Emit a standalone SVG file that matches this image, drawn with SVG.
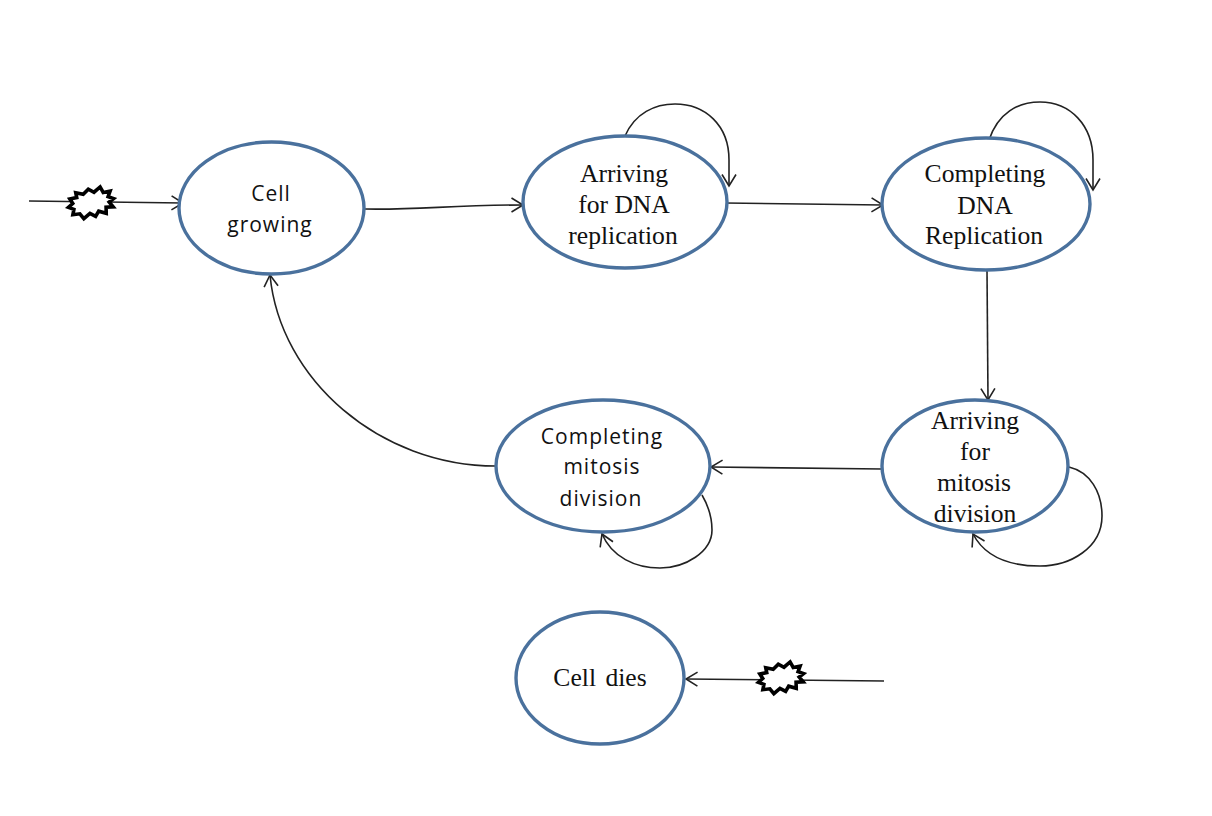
<svg xmlns="http://www.w3.org/2000/svg" width="1212" height="816" viewBox="0 0 1212 816">
<style>
.n{fill:#fff;stroke:#4a719d;stroke-width:3.4}
.c{fill:none;stroke:#222;stroke-width:1.6}
.b{fill:#fff;stroke:#000;stroke-width:3.6;stroke-linejoin:miter}
text{text-anchor:middle;fill:#111}
.s{font-family:"Liberation Serif",serif;font-size:25.6px}
.a{font-family:"Open Sans",sans-serif;font-size:21px;letter-spacing:1px}
</style>
<defs>
<marker id="h" markerUnits="userSpaceOnUse" markerWidth="16" markerHeight="18" refX="13" refY="9" orient="auto"><path d="M1.500 2 L13 9 L1.500 16" fill="none" stroke="#222" stroke-width="1.600"/></marker>
<polygon id="burst" points="23,0 18,2.500 21,8 14,7 13,13 6,9.500 2,14 -3,10 -10,14 -13,8.500 -20,8 -18,3 -23,0 -18,-3 -20,-8 -13,-8 -13,-13 -6,-10 0,-14 5,-10 12,-14 14,-8 21,-8 18,-3"/>
</defs>
<rect width="1212" height="816" fill="#fff"/>
<g id="connectors">
<path class="c" d="M29 201 L183 203" marker-end="url(#h)"/>
<path class="c" d="M365 209 C420 210 450 205 523 205" marker-end="url(#h)"/>
<path class="c" d="M625 136 C635 113 655 104 675 104 C705 104 729 125 729 160 L729 186" marker-end="url(#h)"/>
<path class="c" d="M725 203 L883 205" marker-end="url(#h)"/>
<path class="c" d="M989 140 C998 113 1018 102 1040 102 C1070 102 1093 125 1093 160 L1093 190" marker-end="url(#h)"/>
<path class="c" d="M987 270 L988 400" marker-end="url(#h)"/>
<path class="c" d="M1069 467 C1090 472 1102 492 1102 516 C1102 548 1070 566 1040 566 C1010 566 985 557 973 534" marker-end="url(#h)"/>
<path class="c" d="M882 469 L711 467" marker-end="url(#h)"/>
<path class="c" d="M702 495 C709 507 712 520 712 530 C712 552 685 568 660 568 C635 568 612 557 602 534" marker-end="url(#h)"/>
<path class="c" d="M496 466 C380 466 280 380 270 275" marker-end="url(#h)"/>
<path class="c" d="M884 681 L686 679" marker-end="url(#h)"/>
<use href="#burst" class="b" transform="translate(91 203) rotate(-11)"/>
<use href="#burst" class="b" transform="translate(781 678) rotate(-11)"/>
</g>
<g id="cell-growing"><ellipse class="n" cx="271.500" cy="208" rx="92.500" ry="66"/><text class="a" x="271" y="201">Cell</text><text class="a" x="270" y="232">growing</text></g>
<g id="arriving-dna"><ellipse class="n" cx="625" cy="202" rx="102" ry="66"/><text class="s" x="624" y="182">Arriving</text><text class="s" x="624" y="213">for DNA</text><text class="s" x="623" y="244">replication</text></g>
<g id="completing-dna"><ellipse class="n" cx="986" cy="204" rx="104" ry="66"/><text class="s" x="985" y="182">Completing</text><text class="s" x="985" y="214">DNA</text><text class="s" x="984" y="244">Replication</text></g>
<g id="arriving-mitosis"><ellipse class="n" cx="975" cy="466" rx="93" ry="66"/><text class="s" x="975" y="429">Arriving</text><text class="s" x="975" y="460">for</text><text class="s" x="974" y="491">mitosis</text><text class="s" x="975" y="522">division</text></g>
<g id="completing-mitosis"><ellipse class="n" cx="603" cy="466" rx="107" ry="66"/><text class="a" x="602" y="444">Completing</text><text class="a" x="602" y="474">mitosis</text><text class="a" x="601" y="506">division</text></g>
<g id="cell-dies"><ellipse class="n" cx="600" cy="678" rx="84" ry="66"/><text class="s" x="600" y="686" style="word-spacing:3px">Cell dies</text></g>
</svg>
